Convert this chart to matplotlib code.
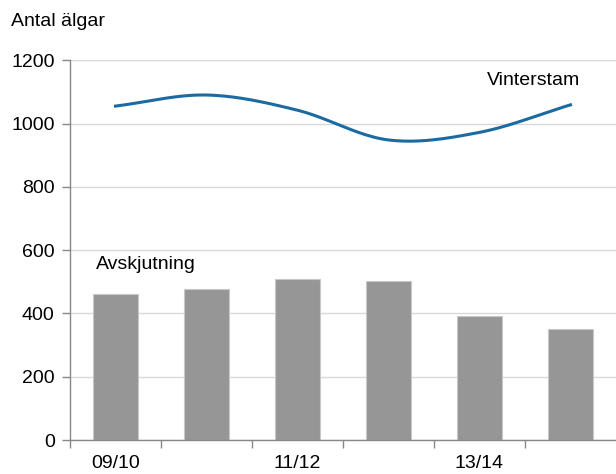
import matplotlib.pyplot as plt
import numpy as np

plt.rcParams['font.family'] = ['Liberation Sans', 'DejaVu Sans']

# data
seasons = ["09/10", "10/11", "11/12", "12/13", "13/14", "14/15"]
avskjutning = [460, 477, 509, 502, 393, 350]
vinterstam = [1055, 1090, 1042, 948, 972, 1059]


def smooth(xs, ys, n=40):
    # Catmull-Rom curve through the points (like Excel's smoothed line)
    xs = np.asarray(xs, float)
    ys = np.asarray(ys, float)
    px = np.concatenate([[2 * xs[0] - xs[1]], xs, [2 * xs[-1] - xs[-2]]])
    py = np.concatenate([[2 * ys[0] - ys[1]], ys, [2 * ys[-1] - ys[-2]]])
    outx, outy = [], []
    t = np.linspace(0, 1, n)
    for i in range(1, len(px) - 2):
        for p, out in ((px, outx), (py, outy)):
            p0, p1, p2, p3 = p[i - 1], p[i], p[i + 1], p[i + 2]
            m1 = (p2 - p0) / 2
            m2 = (p3 - p1) / 2
            h00 = 2 * t**3 - 3 * t**2 + 1
            h10 = t**3 - 2 * t**2 + t
            h01 = -2 * t**3 + 3 * t**2
            h11 = t**3 - t**2
            out.extend(h00 * p1 + h10 * m1 + h01 * p2 + h11 * m2)
    return np.array(outx), np.array(outy)


fig = plt.figure(figsize=(6.16, 4.74), dpi=100)
ax = fig.add_axes([0.1136, 0.0717, 0.8864, 0.8013])

x = np.arange(len(seasons))
ax.bar(x, avskjutning, width=0.5, color="#969696", edgecolor="#c8c8c8", linewidth=0.8, zorder=2)
sx, sy = smooth(x, vinterstam)
ax.plot(sx, sy, color="#1b6aa1", linewidth=2.2, zorder=3)

ax.set_xlim(-0.5, 5.5)
ax.set_ylim(0, 1200)
ax.set_yticks(range(0, 1201, 200))
ax.yaxis.grid(True, color="#d9d9d9", linewidth=1, zorder=0)
ax.set_axisbelow(True)

# ticks at category boundaries, labels on every other season
ax.set_xticks(np.arange(-0.5, 5.0, 1.0))
ax.set_xticklabels([])
ax.set_xticks(x[::2], minor=True)
ax.set_xticklabels(seasons[::2], minor=True)
ax.tick_params(axis="x", which="major", length=6, color="#888888", width=1)
ax.tick_params(axis="x", which="minor", length=0, pad=11, labelsize=14)
ax.tick_params(axis="y", length=6, color="#888888", width=1, pad=5, labelsize=14)

for s in ["top", "right"]:
    ax.spines[s].set_visible(False)
for s in ["left", "bottom"]:
    ax.spines[s].set_color("#888888")
    ax.spines[s].set_linewidth(1)

fig.text(0.018, 0.955, "Antal älgar", fontsize=14, va="center", ha="left")
ax.text(4.08, 1137, "Vinterstam", fontsize=14, va="center", ha="left")
ax.text(-0.22, 556, "Avskjutning", fontsize=14, va="center", ha="left")

plt.savefig("out.png", dpi=100)
